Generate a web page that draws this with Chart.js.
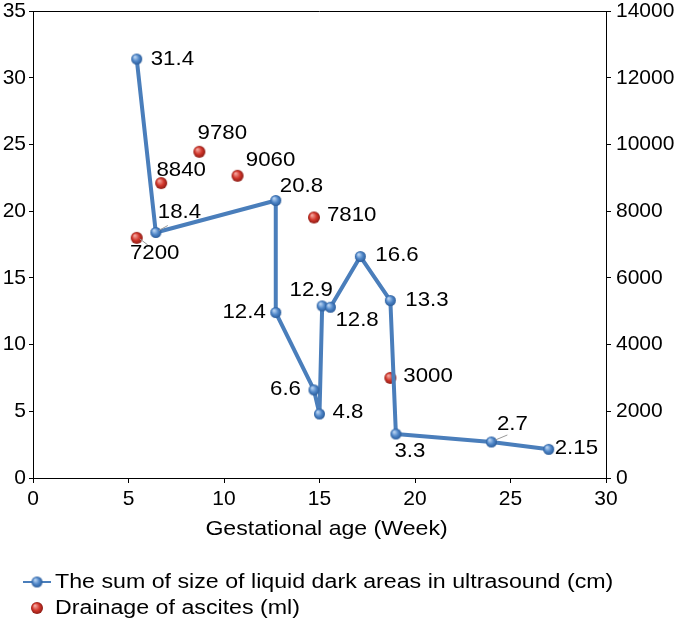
<!DOCTYPE html>
<html>
<head>
<meta charset="utf-8">
<script src="https://cdn.jsdelivr.net/npm/chart.js@4/dist/chart.umd.min.js"></script>
<style>
  html, body { margin: 0; padding: 0; background: #fff; }
</style>
</head>
<body>
<canvas id="myChart" width="685" height="625"></canvas>
<script>
      // data
      const sizeWeeks = [5.43, 6.43, 12.71, 12.71, 14.71, 15, 15.14, 15.57, 17.14, 18.71, 19, 24, 27];
      const sizeCm = [31.4, 18.4, 20.8, 12.4, 6.6, 4.8, 12.9, 12.8, 16.6, 13.3, 3.3, 2.7, 2.15];
      const drainWeeks = [5.43, 6.71, 8.71, 10.71, 14.71, 18.71];
      const drainMl = [7200, 8840, 9780, 9060, 7810, 3000];

      const xTicks = [0, 5, 10, 15, 20, 25, 30];
      const leftTicks = [0, 5, 10, 15, 20, 25, 30, 35];
      const rightTicks = [0, 2000, 4000, 6000, 8000, 10000, 12000, 14000];

      const seriesNames = [
        "The sum of size of liquid dark areas in ultrasound (cm)",
        "Drainage of ascites (ml)"
      ];
      const xTitle = "Gestational age (Week)";

      // label placement [dx, dy, align] relative to the point
      const sizeLabelPos = [
        [14, 0, "left"], [2, -20, "left"], [4, -14, "left"], [-10, 0, "right"],
        [-13, -1, "right"], [13, -2, "left"], [-11, -16, "center"], [5, 13, "left"],
        [15, -1, "left"], [15, 0, "left"], [14, 17, "center"], [21, -18, "center"],
        [6, -1, "left"]
      ];
      const drainLabelPos = [
        [18, 15, "center"], [20, -13, "center"], [23, -19, "center"],
        [33, -16, "center"], [13, -2, "left"], [13, -2, "left"]
      ];
      // little grey leader lines
      const sizeLeaders = { 1: [3, -2, 12, -7], 11: [4, -2, 16, -7] };
      const drainLeaders = { 0: [3, 1, 11, 7] };

      const FONT = "'Liberation Sans', Arial, sans-serif";
      const FS = 21;

      function sphere(r, light, base, dark) {
        const c = document.createElement("canvas");
        const d = r * 2 + 2;
        c.width = d;
        c.height = d;
        const g = c.getContext("2d");
        const grad = g.createRadialGradient(d / 2 - r * 0.35, d / 2 - r * 0.4, r * 0.1, d / 2, d / 2, r);
        grad.addColorStop(0, light);
        grad.addColorStop(0.55, base);
        grad.addColorStop(1, dark);
        g.fillStyle = grad;
        g.beginPath();
        g.arc(d / 2, d / 2, r, 0, Math.PI * 2);
        g.fill();
        return c;
      }

      const blueDot = sphere(5.5, "#b9d4f2", "#4f86c8", "#2a5c9a");
      const redDot = sphere(6, "#f3a39b", "#d2372c", "#8c1a13");

      // the original text is a bit stretched sideways
      function wideText(ctx, text, x, y, size, sx, align) {
        ctx.save();
        ctx.font = size + "px " + FONT;
        ctx.fillStyle = "#000";
        ctx.textBaseline = "middle";
        ctx.textAlign = align;
        ctx.translate(x, y);
        ctx.scale(sx, 1);
        ctx.fillText(text, 0, 0);
        ctx.restore();
      }

      // data labels, leaders, top border, axis title and legend
      const extras = {
        id: "extras",
        afterDatasetsDraw(chart) {
          const ctx = chart.ctx;
          const drawSet = (idx, values, pos, leaders) => {
            const meta = chart.getDatasetMeta(idx);
            meta.data.forEach((pt, i) => {
              const [dx, dy, align] = pos[i];
              if (leaders[i]) {
                const l = leaders[i];
                ctx.save();
                ctx.strokeStyle = "#999";
                ctx.lineWidth = 1;
                ctx.beginPath();
                ctx.moveTo(pt.x + l[0], pt.y + l[1]);
                ctx.lineTo(pt.x + l[2], pt.y + l[3]);
                ctx.stroke();
                ctx.restore();
              }
              wideText(ctx, String(values[i]), pt.x + dx, pt.y + dy, 21, 1.06, align);
            });
          };
          drawSet(0, sizeCm, sizeLabelPos, sizeLeaders);
          drawSet(1, drainMl, drainLabelPos, drainLeaders);
        },
        afterDraw(chart) {
          const ctx = chart.ctx;
          const a = chart.chartArea;
          ctx.save();
          ctx.strokeStyle = "#000";
          ctx.lineWidth = 1;
          ctx.beginPath();
          ctx.moveTo(a.left, Math.round(a.top) + 0.5);
          ctx.lineTo(a.right, Math.round(a.top) + 0.5);
          ctx.stroke();

          wideText(ctx, xTitle, (a.left + a.right) / 2 + 7, 529, 21, 1.1, "center");

          // legend
          ctx.strokeStyle = "#4a7ebb";
          ctx.lineWidth = 2;
          ctx.beginPath();
          ctx.moveTo(23, 582);
          ctx.lineTo(51, 582);
          ctx.stroke();
          ctx.drawImage(blueDot, 37 - blueDot.width / 2, 582 - blueDot.height / 2);
          wideText(ctx, seriesNames[0], 55, 582, 20, 1.16, "left");
          ctx.drawImage(redDot, 37 - redDot.width / 2, 608 - redDot.height / 2);
          wideText(ctx, seriesNames[1], 55, 608, 20, 1.16, "left");
          ctx.restore();
        }
      };

      const tickFont = { family: FONT, size: FS, lineHeight: 1 };
      const noPadY = (w) => (s) => { s.width = w; s.paddingTop = 0; s.paddingBottom = 0; };

      const ctx = document.getElementById("myChart").getContext("2d");
      const myChart = new Chart(ctx, {
        type: "scatter",
        data: {
          datasets: [
            {
              label: seriesNames[0],
              data: sizeWeeks.map((w, i) => ({ x: w, y: sizeCm[i] })),
              showLine: true,
              borderColor: "#4a7ebb",
              borderWidth: 4,
              borderJoinStyle: "round",
              borderCapStyle: "round",
              pointStyle: blueDot,
              yAxisID: "y",
            },
            {
              label: seriesNames[1],
              data: drainWeeks.map((w, i) => ({ x: w, y: drainMl[i] })),
              showLine: false,
              pointStyle: redDot,
              yAxisID: "y1",
            },
          ],
        },
        options: {
          responsive: false,
          animation: false,
          layout: { padding: { top: 11, bottom: 82, left: 0, right: 0 } },
          plugins: {
            legend: { display: false },
            tooltip: { enabled: false },
          },
          scales: {
            x: {
              type: "linear",
              min: 0,
              max: 30,
              afterBuildTicks: (s) => { s.ticks = xTicks.map((v) => ({ value: v })); },
              ticks: { color: "#000", font: tickFont, padding: 6, maxRotation: 0 },
              grid: { drawOnChartArea: false, tickLength: 5, color: "#000" },
              border: { color: "#000", width: 1 },
              afterFit: (s) => { s.height = 65; s.paddingLeft = 0; s.paddingRight = 0; },
            },
            y: {
              position: "left",
              min: 0,
              max: 35,
              afterBuildTicks: (s) => { s.ticks = leftTicks.map((v) => ({ value: v })); },
              ticks: { color: "#000", font: tickFont, padding: 3 },
              grid: { drawOnChartArea: false, tickLength: 4, color: "#000" },
              border: { color: "#000", width: 1 },
              afterFit: noPadY(33),
            },
            y1: {
              position: "right",
              min: 0,
              max: 14000,
              afterBuildTicks: (s) => { s.ticks = rightTicks.map((v) => ({ value: v })); },
              ticks: { color: "#000", font: tickFont, padding: 5, callback: (v) => String(v) },
              grid: { drawOnChartArea: false, tickLength: 5, color: "#000" },
              border: { color: "#000", width: 1 },
              afterFit: noPadY(79),
            },
          },
        },
        plugins: [extras],
      });
</script>
</body>
</html>
